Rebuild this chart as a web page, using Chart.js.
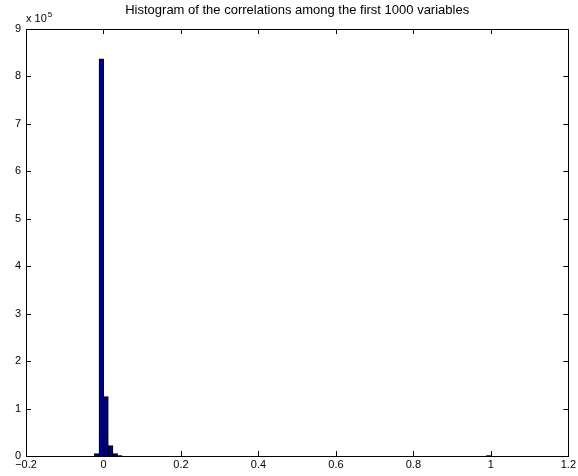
<!DOCTYPE html>
<html>
<head>
<meta charset="utf-8">
<script src="https://cdn.jsdelivr.net/npm/chart.js@4.4.0/dist/chart.umd.min.js"></script>
<style>
  body { margin: 0; background: #fff; }
  #wrap { width: 578px; height: 476px; }
</style>
</head>
<body>
<div id="wrap"><canvas id="hist" width="578" height="476"></canvas></div>
<script>
// histogram bins (centres) and counts
const binCenters = [-0.0175, -0.0055, 0.0065, 0.0185, 0.0305, 0.0425, 0.994];
const binCounts = [5000, 837000, 125000, 22000, 5000, 1000, 1000];
const xTicks = [-0.2, 0, 0.2, 0.4, 0.6, 0.8, 1, 1.2];
const yTicks = [0, 1, 2, 3, 4, 5, 6, 7, 8, 9];
const yScaleFactor = 1e5;
const titleText = 'Histogram of the correlations among the first 1000 variables';

const font = { family: '"Liberation Sans", Arial, sans-serif', size: 11 };

// boxed axes with inward ticks on every side, title and exponent label
const boxAxes = {
    id: 'boxAxes',
    afterDraw(chart) {
        const { ctx, chartArea: a, scales } = chart;
        const x = scales.x, y = scales.y;
        ctx.save();
        ctx.strokeStyle = '#000';
        ctx.lineWidth = 1;
        ctx.beginPath();
        x.ticks.forEach(t => {
            const px = Math.round(x.getPixelForValue(t.value)) + 0.5;
            ctx.moveTo(px, a.bottom); ctx.lineTo(px, a.bottom - 5);
            ctx.moveTo(px, a.top); ctx.lineTo(px, a.top + 5);
        });
        y.ticks.forEach(t => {
            const py = Math.round(y.getPixelForValue(t.value)) + 0.5;
            ctx.moveTo(a.left, py); ctx.lineTo(a.left + 5, py);
            ctx.moveTo(a.right, py); ctx.lineTo(a.right - 5, py);
        });
        ctx.stroke();
        ctx.strokeRect(Math.round(a.left) + 0.5, Math.round(a.top) + 0.5,
            Math.round(a.right - a.left), Math.round(a.bottom - a.top));

        ctx.fillStyle = '#000';
        ctx.textBaseline = 'alphabetic';
        ctx.textAlign = 'center';
        ctx.font = '13px ' + font.family;
        ctx.fillText(titleText, (a.left + a.right) / 2, 14);

        ctx.textAlign = 'left';
        ctx.font = '11px ' + font.family;
        ctx.fillText('x 10', a.left, a.top - 7);
        const w = ctx.measureText('x 10').width;
        ctx.font = '8px ' + font.family;
        ctx.fillText('5', a.left + w + 1, a.top - 12);
        ctx.restore();
    }
};

new Chart(document.getElementById('hist'), {
    type: 'bar',
    data: {
        datasets: [{
            data: binCenters.map((c, i) => ({ x: c, y: binCounts[i] })),
            backgroundColor: 'rgb(0,0,135)',
            borderColor: '#000',
            borderWidth: 1,
            categoryPercentage: 1,
            barPercentage: 1
        }]
    },
    options: {
        responsive: false,
        animation: false,
        layout: { padding: { left: 0, right: 9, top: 29, bottom: 0 } },
        plugins: {
            legend: { display: false },
            tooltip: { enabled: false },
            title: { display: false }
        },
        scales: {
            x: {
                type: 'linear',
                offset: false,
                min: xTicks[0],
                max: xTicks[xTicks.length - 1],
                afterBuildTicks: s => { s.ticks = xTicks.map(v => ({ value: v })); },
                afterFit: s => { s.height = 20; },
                grid: { display: false, drawTicks: false },
                border: { display: false },
                ticks: {
                    color: '#000',
                    font: font,
                    padding: 2,
                    maxRotation: 0,
                    callback: v => String(Number(v.toFixed(1))).replace('-', '\u2212')
                }
            },
            y: {
                min: 0,
                max: yTicks[yTicks.length - 1] * yScaleFactor,
                afterBuildTicks: s => { s.ticks = yTicks.map(v => ({ value: v * yScaleFactor })); },
                afterFit: s => { s.width = 26; },
                grid: { display: false, drawTicks: false },
                border: { display: false },
                ticks: {
                    color: '#000',
                    font: font,
                    padding: 5,
                    callback: v => String(Math.round(v / yScaleFactor))
                }
            }
        }
    },
    plugins: [boxAxes]
});
</script>
</body>
</html>
